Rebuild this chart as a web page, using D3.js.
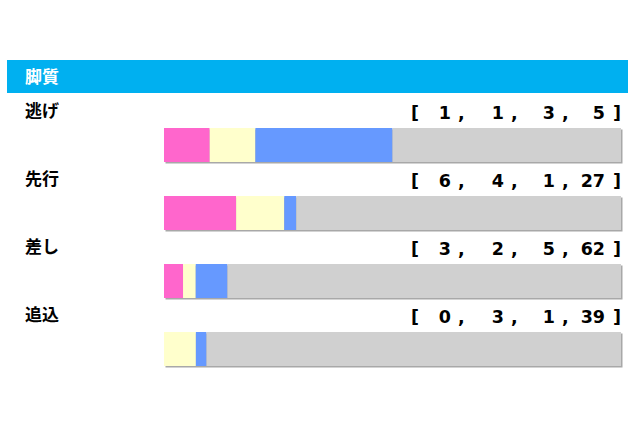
<!DOCTYPE html>
<html>
<head>
<meta charset="utf-8">
<script src="https://cdn.jsdelivr.net/npm/d3@7"></script>
<style>
  body { margin: 0; background: #fff; }
  #chart { width: 640px; height: 426px; }
</style>
</head>
<body>
<div id="chart"></div>
<script>
// Datos
const titulo = "脚質";
const categorias = ["逃げ", "先行", "差し", "追込"];
const serie1 = [1, 6, 3, 0];   // rosa
const serie2 = [1, 4, 2, 3];   // amarillo
const serie3 = [3, 1, 5, 1];   // azul
const serie4 = [5, 27, 62, 39]; // gris
const colores = ["#ff66cc", "#ffffcc", "#6699ff", "#d0d0d0"];

const width = 640;
const height = 426;

const svg = d3.select("#chart")
  .append("svg")
  .attr("width", width)
  .attr("height", height);

// Encabezado azul
svg.append("rect")
  .attr("x", 7).attr("y", 60)
  .attr("width", 621).attr("height", 33)
  .attr("fill", "#00b0f0");

svg.append("text")
  .attr("x", 25).attr("y", 83)
  .attr("fill", "#fff")
  .attr("font-family", "Noto Sans CJK JP")
  .attr("font-weight", "bold")
  .attr("font-size", 17)
  .text(titulo);

const filas = categorias.map((c, i) => ({
  nombre: c,
  valores: [serie1[i], serie2[i], serie3[i], serie4[i]]
}));

// Escala vertical de las filas
const y = d3.scaleBand()
  .domain(categorias)
  .range([94, 366])
  .paddingInner(0);

const barX0 = 164;
const barX1 = 621;
const barH = 34;

const grupo = svg.selectAll("g.fila")
  .data(filas)
  .join("g")
  .attr("class", "fila")
  .attr("transform", d => `translate(0,${y(d.nombre)})`);

// Etiqueta de la categoría
grupo.append("text")
  .attr("x", 25).attr("y", 23)
  .attr("font-family", "Noto Sans CJK JP")
  .attr("font-weight", "bold")
  .attr("font-size", 17)
  .attr("fill", "#000")
  .text(d => d.nombre);

// Números entre corchetes
const numX = [451, 504, 555, 605];
const mono = "DejaVu Sans";
const fs = 17.5;
const base = 25;
grupo.append("text")
  .attr("x", 411).attr("y", base)
  .attr("font-family", mono).attr("font-weight", "bold").attr("font-size", fs)
  .text("[");
grupo.append("text")
  .attr("x", 621).attr("y", base)
  .attr("text-anchor", "end")
  .attr("font-family", mono).attr("font-weight", "bold").attr("font-size", fs)
  .text("]");
grupo.each(function (d) {
  const g = d3.select(this);
  d.valores.forEach((v, j) => {
    g.append("text")
      .attr("x", numX[j]).attr("y", base)
      .attr("text-anchor", "end")
      .attr("font-family", mono).attr("font-weight", "bold").attr("font-size", fs)
      .text(v);
    if (j < 3) {
      g.append("text")
        .attr("x", numX[j] + 7).attr("y", base)
        .attr("font-family", mono).attr("font-weight", "bold").attr("font-size", fs)
        .text(",");
    }
  });
});

// Barras apiladas
grupo.each(function (d) {
  const g = d3.select(this);
  const total = d3.sum(d.valores);
  const x = d3.scaleLinear().domain([0, total]).range([barX0, barX1]);
  const acum = d3.cumsum(d.valores);
  // sombra
  g.append("rect")
    .attr("x", barX0 + 1.5).attr("y", 34 + 1.5)
    .attr("width", barX1 - barX0).attr("height", barH)
    .attr("fill", "#a8a8a8");
  g.selectAll("rect.seg")
    .data(d.valores.map((v, j) => ({ v, j, inicio: acum[j] - v })))
    .join("rect")
    .attr("class", "seg")
    .attr("x", s => x(s.inicio))
    .attr("y", 34)
    .attr("width", s => x(s.inicio + s.v) - x(s.inicio))
    .attr("height", barH)
    .attr("fill", s => colores[s.j]);
});
</script>
</body>
</html>
